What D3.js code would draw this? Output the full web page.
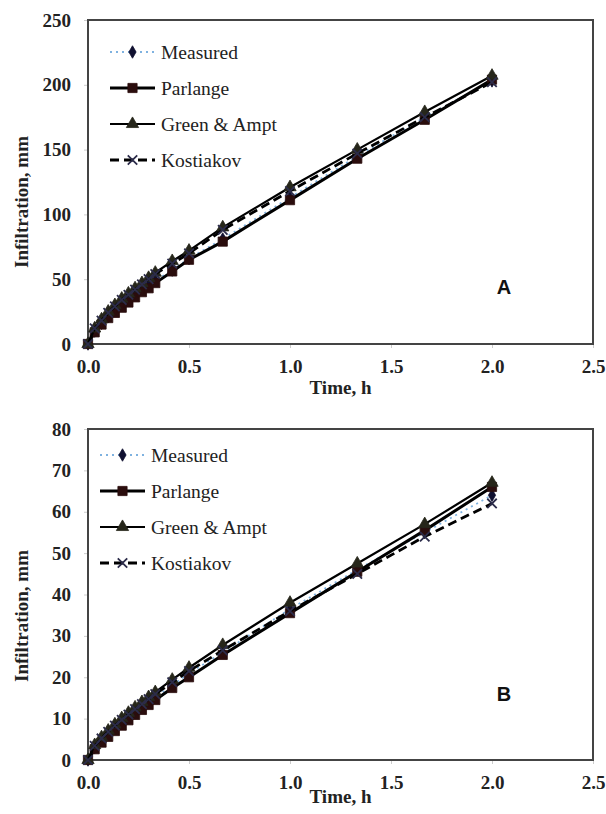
<!DOCTYPE html>
<html>
<head>
<meta charset="utf-8">
<script src="https://cdn.jsdelivr.net/npm/d3@7"></script>
<style>
  body { margin: 0; background: #fff; }
  svg { display: block; }
</style>
</head>
<body>
<div id="chart"></div>
<script>
// time in hours
var timeH = [0, 0.033, 0.067, 0.1, 0.133, 0.167, 0.2, 0.233, 0.267, 0.3, 0.333, 0.417, 0.5, 0.667, 1.0, 1.333, 1.667, 2.0];

var seriesNames = ["Measured", "Parlange", "Green & Ampt", "Kostiakov"];

// panel A
var measuredA   = [0, 10, 16, 21, 26, 30, 34, 38, 42, 45, 49, 57, 66, 81, 113, 145, 175, 203];
var parlangeA   = [0, 9, 15, 20, 24, 28, 32, 36, 40, 43, 47, 56, 65, 79, 111, 143, 173, 204];
var greenAmptA  = [0, 12, 19, 25, 30, 35, 39, 43, 47, 51, 55, 64, 72, 90, 121, 150, 179, 207];
var kostiakovA  = [0, 12, 18, 24, 29, 34, 38, 42, 46, 50, 54, 62, 70, 88, 118, 147, 175, 202];

// panel B
var measuredB   = [0, 3, 4.8, 6.3, 7.7, 9.0, 10.3, 11.6, 12.8, 14.0, 15.2, 18, 21, 26, 36.5, 46, 55, 64];
var parlangeB   = [0, 2.6, 4.2, 5.6, 7.0, 8.3, 9.6, 10.9, 12.1, 13.3, 14.5, 17.4, 20, 25.4, 35.5, 45.5, 55.5, 66];
var greenAmptB  = [0, 3.6, 5.5, 7.1, 8.6, 10.1, 11.4, 12.7, 14.0, 15.2, 16.4, 19.4, 22.3, 27.8, 38, 47.5, 57, 67];
var kostiakovB  = [0, 3.4, 5.2, 6.8, 8.3, 9.7, 11.0, 12.3, 13.5, 14.7, 15.9, 18.8, 21.5, 26.5, 36, 45, 54, 62];

var xTicks  = [0, 0.5, 1.0, 1.5, 2.0, 2.5];
var yTicksA = [0, 50, 100, 150, 200, 250];
var yTicksB = [0, 10, 20, 30, 40, 50, 60, 70, 80];

var styles = [
    {stroke: "#7fb2e0", width: 1.8, dash: "2,4", symbol: d3.symbolDiamond, size: 45, fill: "#101030"},
    {stroke: "#000", width: 3, dash: null, symbol: d3.symbolSquare, size: 85, fill: "#2a0d0d"},
    {stroke: "#000", width: 2.2, dash: null, symbol: d3.symbolTriangle, size: 65, fill: "#26261a"},
    {stroke: "#000", width: 2.8, dash: "9,5", symbol: d3.symbolTimes, size: 60, fill: "#2c2c4a"}
];

var svg = d3.select("#chart").append("svg").attr("width", 606).attr("height", 814);

function drawPanel(cfg) {
    var x = d3.scaleLinear().domain([0, 2.5]).range([cfg.left, cfg.right]);
    var y = d3.scaleLinear().domain([0, cfg.yMax]).range([cfg.bottom, cfg.top]);
    var g = svg.append("g");

    // axes
    var xa = g.append("g").attr("transform", `translate(0,${cfg.bottom})`)
        .call(d3.axisBottom(x).tickValues(xTicks).tickFormat(d3.format(".1f")).tickSize(4).tickPadding(12));
    var ya = g.append("g").attr("transform", `translate(${cfg.left},0)`)
        .call(d3.axisLeft(y).tickValues(cfg.yTicks).tickFormat(d3.format("d")).tickSize(4).tickPadding(13));
    [xa, ya].forEach(a => {
        a.select(".domain").remove();
        a.selectAll(".tick line").attr("stroke", "#ccc");
        a.selectAll("text").attr("font-family", "'Liberation Serif', 'Times New Roman', serif")
            .attr("font-weight", "bold").attr("font-size", 19).attr("fill", "#222");
    });

    // frame
    g.append("rect").attr("x", cfg.left).attr("y", cfg.top)
        .attr("width", cfg.right - cfg.left).attr("height", cfg.bottom - cfg.top)
        .attr("fill", "none").attr("stroke", "#444").attr("stroke-width", 2);

    var line = d3.line().x(d => x(d[0])).y(d => y(d[1]));

    cfg.series.forEach((vals, i) => {
        var st = styles[i];
        var pts = timeH.map((t, j) => [t, vals[j]]);
        g.append("path").datum(pts).attr("d", line).attr("fill", "none")
            .attr("stroke", st.stroke).attr("stroke-width", st.width)
            .attr("stroke-dasharray", st.dash);
        g.selectAll(".m" + i).data(pts).enter().append("path")
            .attr("transform", d => `translate(${x(d[0])},${y(d[1])})`)
            .attr("d", d3.symbol().type(st.symbol).size(st.size))
            .attr("fill", st.symbol === d3.symbolTimes ? "none" : st.fill)
            .attr("stroke", st.fill).attr("stroke-width", st.symbol === d3.symbolTimes ? 1.8 : 0.8);
    });

    // legend
    seriesNames.forEach((name, i) => {
        var st = styles[i];
        var ly = cfg.legendY + i * 36;
        g.append("line").attr("x1", cfg.legendX).attr("x2", cfg.legendX + 45)
            .attr("y1", ly).attr("y2", ly)
            .attr("stroke", st.stroke).attr("stroke-width", st.width).attr("stroke-dasharray", st.dash);
        g.append("path").attr("transform", `translate(${cfg.legendX + 22.5},${ly})`)
            .attr("d", d3.symbol().type(st.symbol).size(st.size))
            .attr("fill", st.symbol === d3.symbolTimes ? "none" : st.fill)
            .attr("stroke", st.fill).attr("stroke-width", st.symbol === d3.symbolTimes ? 1.8 : 0.8);
        g.append("text").attr("x", cfg.legendX + 51).attr("y", ly).attr("dy", "0.35em")
            .attr("font-family", "'Liberation Serif', 'Times New Roman', serif").attr("font-size", 19.5)
            .attr("fill", "#222").text(name);
    });

    // titles
    g.append("text").attr("transform", `translate(${cfg.yTitleX},${cfg.yTitleY}) rotate(-90)`)
        .attr("text-anchor", "middle").attr("font-family", "'Liberation Serif', 'Times New Roman', serif")
        .attr("font-weight", "bold").attr("font-size", 19).attr("fill", "#222").text("Infiltration, mm");
    g.append("text").attr("x", (cfg.left + cfg.right) / 2).attr("y", cfg.xTitleY)
        .attr("text-anchor", "middle").attr("font-family", "'Liberation Serif', 'Times New Roman', serif")
        .attr("font-weight", "bold").attr("font-size", 19).attr("fill", "#222").text("Time, h");
    g.append("text").attr("x", 504).attr("y", cfg.tagY).attr("text-anchor", "middle")
        .attr("font-family", "'Liberation Sans', Arial, sans-serif").attr("font-weight", "bold")
        .attr("font-size", 20).attr("fill", "#111").text(cfg.tag);
}

drawPanel({left: 88, right: 593, top: 20, bottom: 344, yMax: 250, yTicks: yTicksA,
    series: [measuredA, parlangeA, greenAmptA, kostiakovA],
    legendX: 110, legendY: 52, yTitleX: 28, yTitleY: 202, xTitleY: 394, tag: "A", tagY: 294});

drawPanel({left: 88, right: 593, top: 429, bottom: 760, yMax: 80, yTicks: yTicksB,
    series: [measuredB, parlangeB, greenAmptB, kostiakovB],
    legendX: 100, legendY: 455, yTitleX: 28, yTitleY: 616, xTitleY: 803, tag: "B", tagY: 701});
</script>
</body>
</html>
